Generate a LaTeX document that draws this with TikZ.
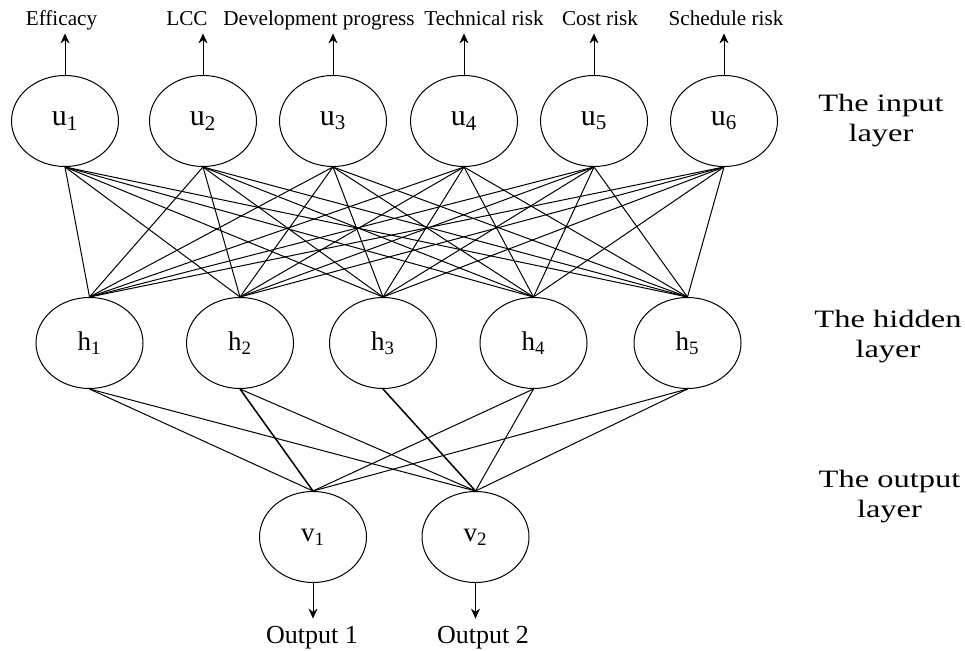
\documentclass[tikz,border=0pt]{standalone}
\usepackage{fontspec}
\setmainfont{Liberation Serif}
\newfontfamily\layerfont{Liberation Serif}[FakeStretch=1.3]
\usetikzlibrary{shapes.geometric,arrows.meta}

\begin{document}
\begin{tikzpicture}[x=0.5pt,y=-0.5pt,
    neuron/.style={draw,ellipse,minimum width=53.5pt,minimum height=45.5pt,inner sep=0pt,line width=0.5pt},
    wire/.style={line width=0.5pt},
    thickwire/.style={line width=0.75pt},
    outarrow/.style={line width=0.5pt,-{Stealth[length=5pt,width=4.5pt]}},
    toplabel/.style={anchor=base,font=\fontsize{10.6}{13}\selectfont,text depth=3pt,inner sep=0.5pt},
    outlabel/.style={anchor=base,font=\fontsize{13}{15}\selectfont,text height=12pt,inner sep=0.5pt},
    layerlabel/.style={align=center,font=\layerfont\fontsize{12.5}{15}\selectfont}]
  \useasboundingbox (0,0) rectangle (965,651);

  % neurons
  \foreach \i/\x in {1/65,2/203,3/333,4/464,5/594,6/724}
    \node[neuron,font=\fontsize{15}{17}\selectfont] (u\i) at (\x,121) {u\textsubscript{\i}};
  \foreach \i/\x in {1/89.5,2/240,3/383,4/533.5,5/687.5}
    \node[neuron,font=\fontsize{13.5}{15}\selectfont] (h\i) at (\x,343) {h\textsubscript{\i}};
  \foreach \i/\x in {1/313,2/475.5}
    \node[neuron,font=\fontsize{13.5}{15}\selectfont] (v\i) at (\x,537) {v\textsubscript{\i}};

  % inputs
  \node[toplabel] (t1) at (61.5,26) {Efficacy};
  \node[toplabel] (t2) at (187,26) {LCC};
  \node[toplabel] (t3) at (319,26) {Development progress};
  \node[toplabel] (t4) at (484,26) {Technical risk};
  \node[toplabel] (t5) at (600,26) {Cost risk};
  \node[toplabel] (t6) at (726,26) {Schedule risk};
  \foreach \i in {1,...,6}
    \draw[outarrow] (u\i.north) -- (u\i.north |- t\i.south);

  % outputs
  \node[outlabel] (o1) at (312,644) {Output 1};
  \node[outlabel] (o2) at (483,644) {Output 2};
  \foreach \i in {1,2}
    \draw[outarrow] (v\i.south) -- (v\i.south |- o\i.north);

  % connections
  \foreach \i in {1,...,6}
    \foreach \j in {1,...,5}
      \draw[wire] (u\i.south) -- (h\j.north);
  \foreach \i/\j in {1/1,1/2,2/2,4/1,4/2,5/1,5/2}
    \draw[wire] (h\i.south) -- (v\j.north);
  \draw[thickwire] (h2.south) -- (v1.north);
  \draw[thickwire] (h3.south) -- (v2.north);

  % layer names
  \node[layerlabel] (inname) at (881,121) {The input\\layer};
  \node[layerlabel] (hidname) at (888,337) {The hidden\\layer};
  \node[layerlabel] (outname) at (889.5,497) {The output\\layer};
\end{tikzpicture}
\end{document}
